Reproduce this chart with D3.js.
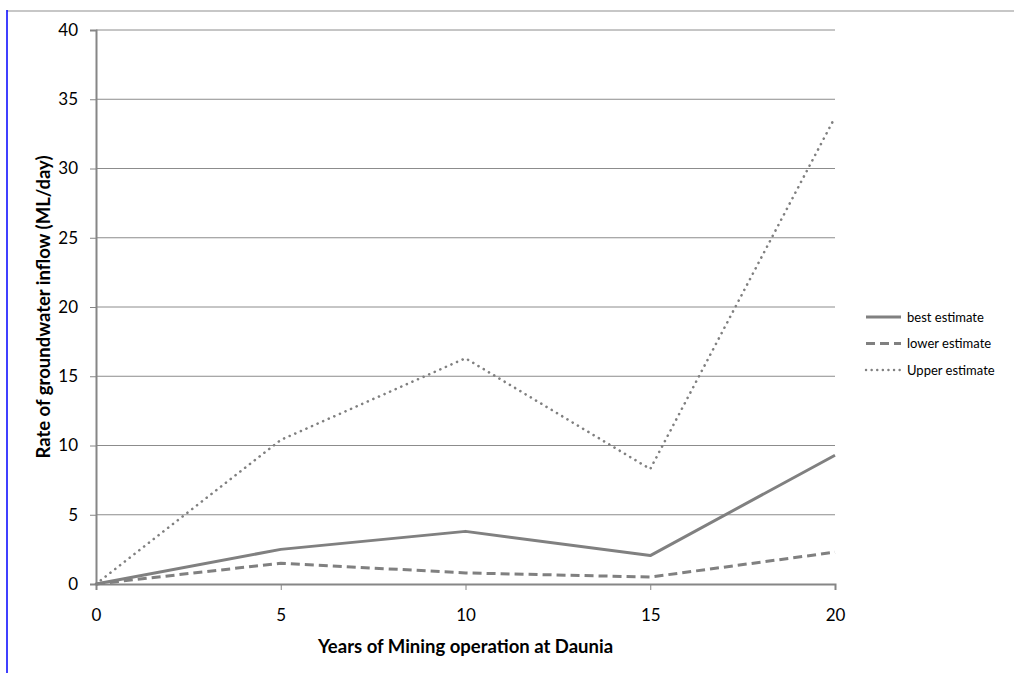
<!DOCTYPE html>
<html>
<head>
<meta charset="utf-8">
<script src="https://cdn.jsdelivr.net/npm/d3@7"></script>
<style>
  body { margin: 0; background: #fff; }
  text { font-family: Lato, "Open Sans", sans-serif; }
</style>
</head>
<body>
<div id="container"></div>
<script>
/* DATA */
const years = [0, 5, 10, 15, 20];
const bestEstimate = [0, 2.5, 3.8, 2.05, 9.3];
const lowerEstimate = [0, 1.5, 0.8, 0.5, 2.3];
const upperEstimate = [0, 10.4, 16.3, 8.3, 33.7];
const yTicks = [0, 5, 10, 15, 20, 25, 30, 35, 40];
const seriesNames = ["best estimate", "lower estimate", "Upper estimate"];

/* CONSTANTS */
const width = 1014;
const height = 673;
const margin = { left: 96, right: 179, top: 30, bottom: 89 };

const svg = d3.select("#container")
  .append("svg")
  .attr("width", width)
  .attr("height", height);

// page frame lines
svg.append("line")
  .attr("x1", 7).attr("x2", width).attr("y1", 11).attr("y2", 11)
  .attr("stroke", "#b4b4b4").attr("stroke-width", 1.5);
svg.append("line")
  .attr("x1", 7).attr("x2", 7).attr("y1", 10).attr("y2", height)
  .attr("stroke", "#0000ff").attr("stroke-width", 1.5);

/* SCALES */
const xScale = d3.scaleLinear()
  .domain([0, 20])
  .range([margin.left, width - margin.right]);

const yScale = d3.scaleLinear()
  .domain([0, 40])
  .range([height - margin.bottom, margin.top]);

// gridlines
svg.append("g")
  .selectAll("line")
  .data(yTicks.filter(d => d > 0))
  .join("line")
  .attr("x1", xScale(0)).attr("x2", xScale(20))
  .attr("y1", d => yScale(d)).attr("y2", d => yScale(d))
  .attr("stroke", "#8c8c8c").attr("stroke-width", 1);

// y axis
const yAxis = svg.append("g")
  .attr("transform", `translate(${xScale(0)},0)`)
  .call(d3.axisLeft(yScale).tickValues(yTicks).tickSize(6).tickPadding(12));
yAxis.selectAll("text").style("font-size", "17px").attr("fill", "#000");

// x axis
const xAxis = svg.append("g")
  .attr("transform", `translate(0,${yScale(0)})`)
  .call(d3.axisBottom(xScale).tickValues(years).tickSize(6).tickPadding(19));
xAxis.selectAll("text").style("font-size", "17px").attr("fill", "#000");

[yAxis, xAxis].forEach(ax => {
  ax.select(".domain").attr("stroke", "#868686").attr("stroke-width", 2);
  ax.selectAll(".tick line").attr("stroke", "#868686").attr("stroke-width", 1);
});

/* LINES */
const series = [
  { name: seriesNames[0], values: bestEstimate, dash: null, cap: "butt" },
  { name: seriesNames[1], values: lowerEstimate, dash: "9,5", cap: "butt" },
  { name: seriesNames[2], values: upperEstimate, dash: "0.1,6", cap: "round" }
];

const line = d3.line()
  .x((d, i) => xScale(years[i]))
  .y(d => yScale(d));

svg.append("g")
  .selectAll("path")
  .data(series)
  .join("path")
  .attr("d", d => line(d.values))
  .attr("fill", "none")
  .attr("stroke", "#808080")
  .attr("stroke-width", d => d.cap === "round" ? 2.6 : 3)
  .attr("stroke-linecap", d => d.cap)
  .attr("stroke-linejoin", "round")
  .attr("stroke-dasharray", d => d.dash);

/* LEGEND */
const legend = svg.append("g")
  .attr("transform", "translate(866,317)");

const rows = legend.selectAll("g")
  .data(series)
  .join("g")
  .attr("transform", (d, i) => `translate(0,${i * 26.5})`);

rows.append("line")
  .attr("x1", 0).attr("x2", 35).attr("y1", 0).attr("y2", 0)
  .attr("stroke", "#808080")
  .attr("stroke-width", d => d.cap === "round" ? 2.4 : 3)
  .attr("stroke-linecap", d => d.cap)
  .attr("stroke-dasharray", d => d.cap === "round" ? "0.1,5.5" : d.dash);

rows.append("text")
  .attr("x", 41).attr("y", 0).attr("dy", "0.35em")
  .style("font-size", "13px")
  .text(d => d.name);

/* AXIS TITLES */
svg.append("text")
  .attr("x", (xScale(0) + xScale(20)) / 2)
  .attr("y", 653)
  .attr("text-anchor", "middle")
  .style("font-size", "18.5px")
  .style("font-weight", "bold")
  .text("Years of Mining operation at Daunia");

svg.append("text")
  .attr("transform", `translate(50,${(yScale(0) + yScale(40)) / 2}) rotate(-90)`)
  .attr("text-anchor", "middle")
  .style("font-size", "18.5px")
  .style("font-weight", "bold")
  .text("Rate of groundwater inflow (ML/day)");
</script>
</body>
</html>
